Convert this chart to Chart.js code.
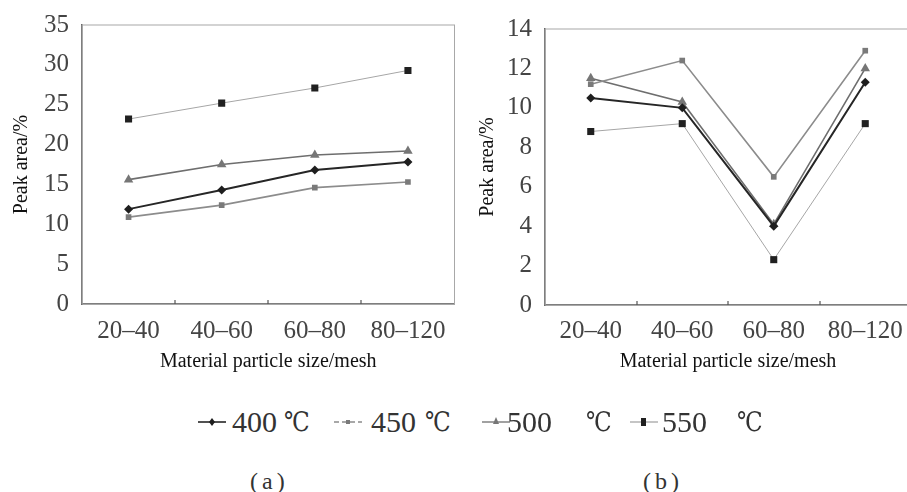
<!DOCTYPE html>
<html>
<head>
<meta charset="utf-8">
<script src="https://cdn.jsdelivr.net/npm/chart.js@4.4.1/dist/chart.umd.min.js"></script>
<style>
  body { margin: 0; width: 907px; height: 492px; overflow: hidden; background: #fff; position: relative;
         font-family: "Liberation Serif", "DejaVu Serif", serif; color: #333; }
  .wrap { position: absolute; top: 0; width: 460px; height: 380px; }
  #wrapA { left: 0; }
  #wrapB { left: 460px; }
  .lg { position: absolute; font-size: 30px; line-height: 30px; white-space: nowrap; }
  .unit { font-family: "DejaVu Serif", "Liberation Serif", serif; font-size: 27px; transform: scaleX(0.85); transform-origin: left center; }
  .icon { position: absolute; }
  .cap { position: absolute; font-size: 24px; letter-spacing: 4px; top: 468px; }
</style>
</head>
<body>
<div class="wrap" id="wrapA"><canvas id="chartA" width="460" height="380"></canvas></div>
<div class="wrap" id="wrapB"><canvas id="chartB" width="460" height="380"></canvas></div>
<div id="legend"></div>
<div class="cap" style="left:250px">(a)</div>
<div class="cap" style="left:643px">(b)</div>
<script>
// data
const categories = ["20\u201340", "40\u201360", "60\u201380", "80\u2013120"]
const seriesNames = ["400", "450", "500", "550"]

const peakA400 = [11.9, 14.3, 16.8, 17.8]
const peakA450 = [10.9, 12.4, 14.6, 15.3]
const peakA500 = [15.6, 17.5, 18.7, 19.2]
const peakA550 = [23.2, 25.2, 27.1, 29.3]

const peakB400 = [10.5, 10.0, 4.0, 11.3]
const peakB450 = [11.2, 12.4, 6.5, 12.9]
const peakB500 = [11.5, 10.3, 4.1, 12.0]
const peakB550 = [8.8, 9.2, 2.3, 9.2]

const yTicksA = [0, 5, 10, 15, 20, 25, 30, 35]
const yTicksB = [0, 2, 4, 6, 8, 10, 12, 14]

const serif = '"Liberation Serif", "DejaVu Serif", serif'
Chart.defaults.font.family = serif

const styles = [
  { borderColor: "#262626", borderWidth: 2, pointStyle: "rectRot", pointRadius: 4.5, pointBackgroundColor: "#1e1e1e" },
  { borderColor: "#8c8c8c", borderWidth: 1.6, pointStyle: "rect", pointRadius: 4, pointBackgroundColor: "#7a7a7a" },
  { borderColor: "#6e6e6e", borderWidth: 1.6, pointStyle: "triangle", pointRadius: 5.5, pointBackgroundColor: "#767676" },
  { borderColor: "#a6a6a6", borderWidth: 1, pointStyle: "rect", pointRadius: 5, pointBackgroundColor: "#202020" },
]

function makeSets(values) {
  return values.map((v, i) => ({
    label: seriesNames[i] + " \u2103",
    data: v,
    tension: 0,
    fill: false,
    pointBorderWidth: 0,
    pointBorderColor: styles[i].pointBackgroundColor,
    ...styles[i],
  }))
}

// light box around the plot plus the short inside ticks on the category axis
const frame = {
  id: "frame",
  beforeDatasetsDraw(chart) {
    const { ctx, chartArea: a } = chart
    const xs = chart.scales.x
    ctx.save()
    ctx.strokeStyle = "#a8a8a8"
    ctx.lineWidth = 1
    ctx.strokeRect(a.left, a.top, a.right - a.left, a.bottom - a.top)
    ctx.strokeStyle = "#555"
    ctx.lineWidth = 1.2
    for (let i = 1; i < categories.length; i++) {
      const x = Math.round((xs.getPixelForValue(i - 1) + xs.getPixelForValue(i)) / 2)
      ctx.beginPath()
      ctx.moveTo(x, a.bottom)
      ctx.lineTo(x, a.bottom - 4)
      ctx.stroke()
    }
    ctx.restore()
  },
}

function makeChart(id, values, ticks, cfg) {
  return new Chart(document.getElementById(id), {
    type: "line",
    data: { labels: categories, datasets: makeSets(values) },
    options: {
      responsive: false,
      animation: false,
      layout: { padding: { top: cfg.top, right: cfg.right, bottom: 0, left: 0 } },
      plugins: { legend: { display: false }, tooltip: { enabled: false } },
      scales: {
        x: {
          offset: true,
          grid: { display: false },
          border: { color: "#555", width: 1.5 },
          ticks: { color: "#444", font: { size: 25 }, padding: cfg.xPad, maxRotation: 0, autoSkip: false },
          title: { display: true, text: "Material particle size/mesh", color: "#111", font: { size: 20 }, padding: { top: 0, bottom: 6 } },
          afterFit(s) { s.height = cfg.xHeight },
        },
        y: {
          min: ticks[0],
          max: ticks[ticks.length - 1],
          afterBuildTicks(s) { s.ticks = ticks.map(v => ({ value: v })) },
          grid: { display: false },
          border: { color: "#555", width: 1.5 },
          ticks: { color: "#444", font: { size: 25 }, padding: 5 },
          title: { display: true, text: "Peak area/%", color: "#111", font: { size: 20 }, padding: { top: cfg.yTitlePad, bottom: 0 } },
          afterFit(s) { s.width = cfg.yWidth },
        },
      },
    },
    plugins: [frame],
  })
}

makeChart("chartA", [peakA400, peakA450, peakA500, peakA550], yTicksA,
  { top: 25, right: 5, xPad: 4, xHeight: 76, yWidth: 82, yTitlePad: 10 })
makeChart("chartB", [peakB400, peakB450, peakB500, peakB550], yTicksB,
  { top: 29, right: 9, xPad: 3, xHeight: 75, yWidth: 85, yTitlePad: 16 })

// shared legend under both panels
const legendPos = [
  { icon: 197, num: 232, unit: 284 },
  { icon: 333, num: 371, unit: 425 },
  { icon: 481, num: 507, unit: 586 },
  { icon: 629, num: 662, unit: 737 },
]
const legendY = 407
const legend = document.getElementById("legend")
seriesNames.forEach((name, i) => {
  const p = legendPos[i]
  const st = styles[i]
  const c = document.createElement("canvas")
  c.width = 30; c.height = 20
  c.className = "icon"
  c.style.left = p.icon + "px"
  c.style.top = (legendY + 5) + "px"
  const g = c.getContext("2d")
  g.strokeStyle = st.borderColor
  g.lineWidth = i === 0 ? 1.6 : 1.3
  if (i === 1) g.setLineDash([5, 3])
  g.beginPath(); g.moveTo(1, 10); g.lineTo(29, 10); g.stroke()
  g.fillStyle = st.pointBackgroundColor
  g.beginPath()
  if (st.pointStyle === "rectRot") { g.moveTo(15, 6); g.lineTo(18, 10); g.lineTo(15, 14); g.lineTo(12, 10) }
  else if (st.pointStyle === "triangle") { g.moveTo(15, 5); g.lineTo(18, 12); g.lineTo(12, 12) }
  else if (i === 3) { g.rect(12, 6, 5, 8) }
  else { g.rect(13, 8, 4, 4) }
  g.closePath(); g.fill()
  legend.appendChild(c)
  const n = document.createElement("div")
  n.className = "lg"; n.textContent = name
  n.style.left = p.num + "px"; n.style.top = legendY + "px"
  legend.appendChild(n)
  const u = document.createElement("div")
  u.className = "lg unit"; u.textContent = "\u2103"
  u.style.left = p.unit + "px"; u.style.top = legendY + "px"
  legend.appendChild(u)
})
</script>
</body>
</html>
